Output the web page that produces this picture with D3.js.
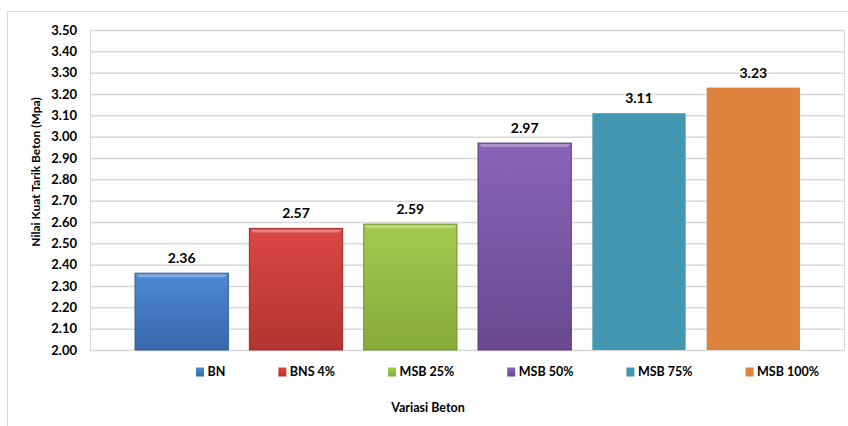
<!DOCTYPE html>
<html>
<head>
<meta charset="utf-8">
<script src="https://cdn.jsdelivr.net/npm/d3@7"></script>
<style>
  body { margin: 0; background: #fff; }
  text { font-family: Lato, "Open Sans", sans-serif; font-weight: bold; fill: #000; }
</style>
</head>
<body>
<div id="chart"></div>
<script>
// chart data
const categories = ['BN', 'BNS 4%', 'MSB 25%', 'MSB 50%', 'MSB 75%', 'MSB 100%'];
const values = [2.36, 2.57, 2.59, 2.97, 3.11, 3.23];
const yTicks = [2.00, 2.10, 2.20, 2.30, 2.40, 2.50, 2.60, 2.70, 2.80, 2.90, 3.00, 3.10, 3.20, 3.30, 3.40, 3.50];
const colors = [
    { top: '#4d89d4', bottom: '#3768aa', edge: '#2c5a96', bevel: true },
    { top: '#db4743', bottom: '#b23430', edge: '#9a2b28', bevel: true },
    { top: '#a3ca4e', bottom: '#87a93b', edge: '#728f30', bevel: true },
    { top: '#8a64ba', bottom: '#69488f', edge: '#573a7b', bevel: true },
    { top: '#4198b0', bottom: '#4198b0', edge: null, bevel: false },
    { top: '#dc843e', bottom: '#dc843e', edge: null, bevel: false }
];

const W = 848, H = 426;
const margin = { top: 30, right: 3, bottom: 76, left: 90 };
const width = W - margin.left - margin.right;
const height = H - margin.top - margin.bottom;

const svg = d3.select('#chart').append('svg')
    .attr('width', W)
    .attr('height', H);

// gradients for the bevelled bars
const defs = svg.append('defs');
colors.forEach((c, i) => {
    const g = defs.append('linearGradient')
        .attr('id', `grad-${i}`)
        .attr('x1', 0).attr('y1', 0).attr('x2', 0).attr('y2', 1);
    g.append('stop').attr('offset', '0%').attr('stop-color', c.top);
    g.append('stop').attr('offset', '100%').attr('stop-color', c.bottom);
});

// outer chart border
svg.append('rect')
    .attr('x', 7.5).attr('y', 11.5)
    .attr('width', W).attr('height', H)
    .attr('fill', 'none')
    .attr('stroke', '#d9d9d9');

const chart = svg.append('g')
    .attr('transform', `translate(${margin.left},${margin.top})`);

const xScale = d3.scaleBand()
    .domain(categories)
    .range([0, width])
    .paddingInner(0.184)
    .paddingOuter(0.394);

const yScale = d3.scaleLinear()
    .domain([2.0, 3.5])
    .range([height, 0]);

// gridlines
const yAxis = d3.axisLeft(yScale)
    .tickValues(yTicks)
    .tickSize(-width)
    .tickPadding(13)
    .tickFormat(d3.format('.2f'));

const yAxisG = chart.append('g')
    .attr('class', 'axis y-axis')
    .call(yAxis)
    .call(g => g.select('.domain').remove());

yAxisG.selectAll('.tick line')
    .attr('stroke', '#d9d9d9')
    .attr('stroke-width', 1.5);
yAxisG.selectAll('.tick text')
    .style('font-size', '13px');

// plot area border
chart.append('rect')
    .attr('x', 0.5).attr('y', 0.5)
    .attr('width', width - 1).attr('height', height)
    .attr('fill', 'none')
    .attr('stroke', '#d9d9d9');

// bars
const bars = chart.selectAll('.bar')
    .data(values)
    .join('g')
    .attr('class', 'bar');

bars.append('rect')
    .attr('x', (d, i) => xScale(categories[i]))
    .attr('y', d => yScale(d))
    .attr('width', xScale.bandwidth())
    .attr('height', d => height - yScale(d))
    .attr('fill', (d, i) => `url(#grad-${i})`)
    .attr('stroke', (d, i) => colors[i].edge || 'none')
    .attr('stroke-width', 1);

// soft bevel highlight along the top edge of the gradient bars
bars.filter((d, i) => colors[i].bevel)
    .append('path')
    .attr('d', (d, i) => {
        const x0 = xScale(categories[i]) + 1, x1 = x0 + xScale.bandwidth() - 2;
        const y0 = yScale(d) + 1;
        return `M${x0},${y0}H${x1}L${x1 - 3},${y0 + 3}H${x0 + 3}Z`;
    })
    .attr('fill', '#fff')
    .attr('opacity', 0.3);

// value labels
chart.selectAll('.value-label')
    .data(values)
    .join('text')
    .attr('class', 'value-label')
    .attr('x', (d, i) => xScale(categories[i]) + xScale.bandwidth() / 2)
    .attr('y', d => yScale(d) - 10)
    .attr('text-anchor', 'middle')
    .style('font-size', '14px')
    .text(d => d3.format('.2f')(d));

// legend
const legend = svg.append('g').attr('class', 'legend');
const items = legend.selectAll('.legend-item')
    .data(categories)
    .join('g')
    .attr('class', 'legend-item');

items.append('rect')
    .attr('width', 8)
    .attr('height', 9)
    .attr('y', -8.5)
    .attr('fill', (d, i) => `url(#grad-${i})`);

items.append('text')
    .attr('x', 11.5)
    .attr('y', 0)
    .style('font-size', '12.5px')
    .text(d => d);

// spread the legend items between the first swatch and the last label end
const legendLeft = 196, legendRight = 819;
const itemWidths = [];
items.each(function () {
    itemWidths.push(11.5 + d3.select(this).select('text').node().getComputedTextLength());
});
const gap = (legendRight - legendLeft - d3.sum(itemWidths)) / (itemWidths.length - 1);
let cursor = legendLeft;
items.each(function (d, i) {
    d3.select(this).attr('transform', `translate(${cursor},376)`);
    cursor += itemWidths[i] + gap;
});

// axis titles
svg.append('text')
    .attr('x', 428)
    .attr('y', 412)
    .attr('text-anchor', 'middle')
    .style('font-size', '12.5px')
    .text('Variasi Beton');

svg.append('text')
    .attr('transform', 'translate(40,172) rotate(-90)')
    .attr('text-anchor', 'middle')
    .style('font-size', '12px')
    .text('Nilai Kuat Tarik Beton (Mpa)');
</script>
</body>
</html>
